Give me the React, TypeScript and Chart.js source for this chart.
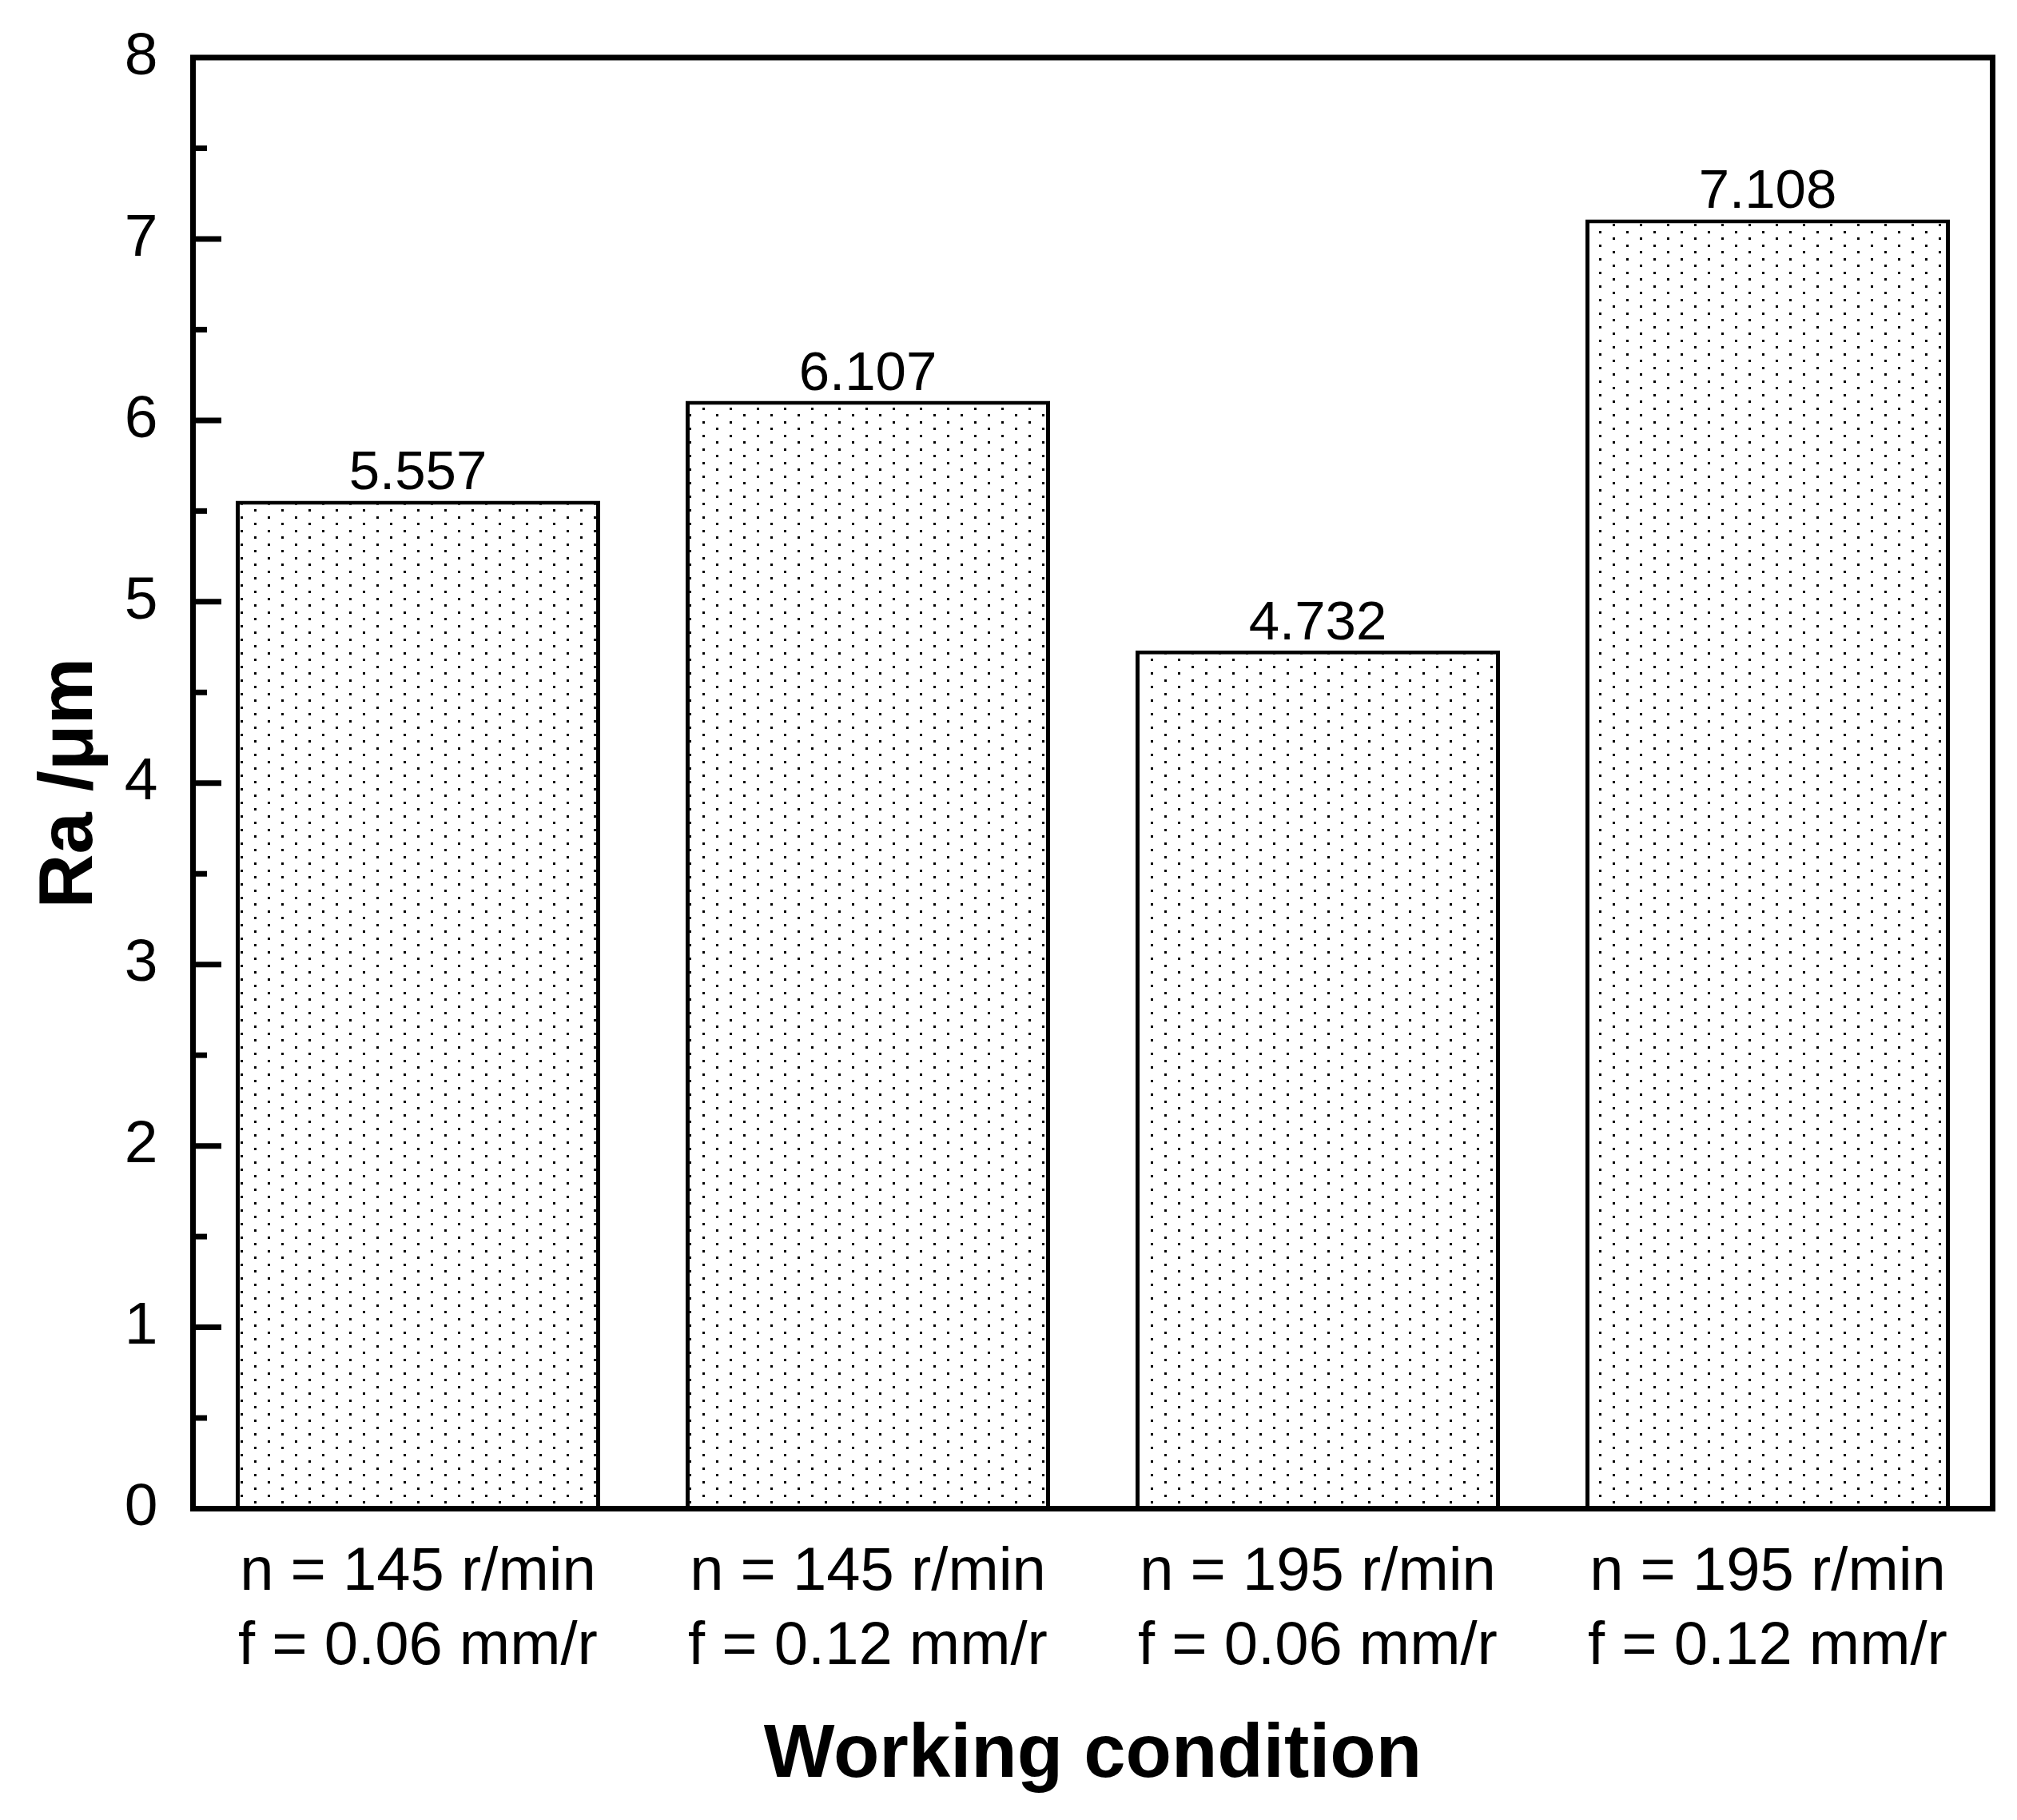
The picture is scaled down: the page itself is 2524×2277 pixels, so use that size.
import React, { useEffect, useRef } from "react";
import { Chart, registerables } from "chart.js";

Chart.register(...registerables);

const categories: string[][] = [
  ["n = 145 r/min", "f = 0.06 mm/r"],
  ["n = 145 r/min", "f = 0.12 mm/r"],
  ["n = 195 r/min", "f = 0.06 mm/r"],
  ["n = 195 r/min", "f = 0.12 mm/r"],
];
const raValues: number[] = [5.557, 6.107, 4.732, 7.108];
const yMin = 0;
const yMax = 8;
const yMajorStep = 1;
const yMinorStep = 0.5;
const xTitle = "Working condition";
const yTitle = "Ra /μm";

const FONT = "'Liberation Sans', Arial, Helvetica, sans-serif";

function makeDotPattern(): CanvasPattern | string {
  const c = document.createElement("canvas");
  c.width = 34;
  c.height = 17;
  const g = c.getContext("2d");
  if (!g) return "#fff";
  g.fillStyle = "#ffffff";
  g.fillRect(0, 0, 34, 17);
  g.fillStyle = "#000000";
  g.fillRect(29, 0, 3, 3);
  g.fillRect(12, 8, 3, 3);
  const p = g.createPattern(c, "repeat");
  return p || "#fff";
}

const frameTicksPlugin = {
  id: "frameTicks",
  afterDraw(chart: any) {
    const { ctx, chartArea } = chart;
    const { left, top, right, bottom } = chartArea;
    const ys = chart.scales.y;
    ctx.save();
    ctx.strokeStyle = "#000";
    ctx.lineWidth = 7;
    ctx.lineCap = "butt";
    for (let v = yMin + yMinorStep; v < yMax - 1e-9; v += yMinorStep) {
      const y = ys.getPixelForValue(v);
      const major = Math.abs(v / yMajorStep - Math.round(v / yMajorStep)) < 1e-6;
      ctx.beginPath();
      ctx.moveTo(left, y);
      ctx.lineTo(left + (major ? 35.5 : 17.5), y);
      ctx.stroke();
    }
    ctx.lineJoin = "miter";
    ctx.strokeRect(left, top, right - left, bottom - top);
    ctx.restore();
  },
};

const valueLabelPlugin = {
  id: "valueLabels",
  afterDatasetsDraw(chart: any) {
    const { ctx } = chart;
    const meta = chart.getDatasetMeta(0);
    ctx.save();
    ctx.fillStyle = "#000";
    ctx.font = `69px ${FONT}`;
    ctx.textAlign = "center";
    ctx.textBaseline = "alphabetic";
    meta.data.forEach((el: any, i: number) => {
      ctx.fillText(raValues[i].toFixed(3), el.x, el.y - 14);
    });
    ctx.restore();
  },
};

export default function App() {
  const ref = useRef<HTMLCanvasElement | null>(null);

  useEffect(() => {
    if (!ref.current) return;
    const pattern = makeDotPattern();
    const chart = new Chart(ref.current, {
      type: "bar",
      data: {
        labels: categories,
        datasets: [
          {
            data: raValues,
            backgroundColor: pattern as any,
            borderColor: "#000",
            borderWidth: 5,
            barPercentage: 0.9,
            categoryPercentage: 0.9,
          },
        ],
      },
      options: {
        responsive: false,
        animation: false,
        devicePixelRatio: 1,
        layout: { padding: { left: 0, top: 72, right: 30.5, bottom: 0 } },
        plugins: {
          legend: { display: false },
          tooltip: { enabled: false },
          title: { display: false },
        },
        scales: {
          x: {
            type: "category",
            offset: true,
            grid: { display: false, drawTicks: false },
            border: { display: false },
            ticks: {
              color: "#000",
              font: { family: FONT, size: 76, lineHeight: 1.22 },
              padding: 34,
              maxRotation: 0,
              minRotation: 0,
              autoSkip: false,
            },
            title: {
              display: true,
              text: xTitle,
              color: "#000",
              font: { family: FONT, size: 94, weight: "bold", lineHeight: 1.2 },
              padding: { top: 0, bottom: 24 },
            },
            afterFit: (s: any) => {
              s.height = 389.5;
              s.paddingLeft = 0;
              s.paddingRight = 0;
            },
          },
          y: {
            min: yMin,
            max: yMax,
            grid: { display: false, drawTicks: false },
            border: { display: false },
            ticks: {
              stepSize: yMajorStep,
              color: "#000",
              font: { family: FONT, size: 75 },
              padding: 44,
            },
            title: {
              display: true,
              text: yTitle,
              color: "#000",
              font: { family: FONT, size: 94, weight: "bold", lineHeight: 1.2 },
              padding: { top: 33, bottom: 0 },
            },
            afterFit: (s: any) => {
              s.width = 241.5;
              s.paddingTop = 0;
              s.paddingBottom = 0;
            },
          },
        },
      } as any,
      plugins: [frameTicksPlugin, valueLabelPlugin],
    });
    return () => chart.destroy();
  }, []);

  return (
    <div style={{ position: "absolute", left: 0, top: 0, width: 2524, height: 2277, background: "#fff" }}>
      <canvas ref={ref} width={2524} height={2277} style={{ width: 2524, height: 2277, display: "block" }} />
    </div>
  );
}
